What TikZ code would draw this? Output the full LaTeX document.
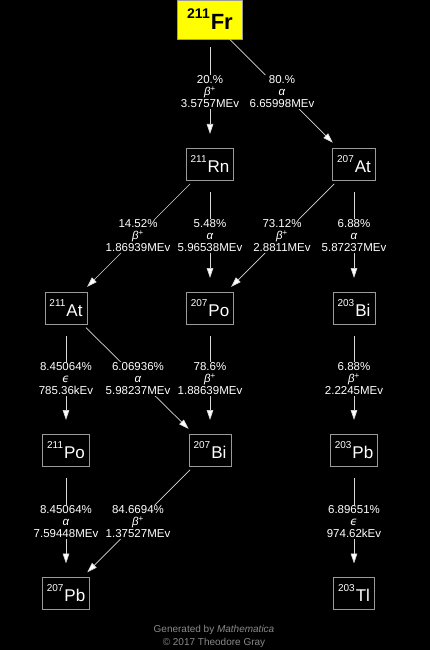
\documentclass[tikz,border=0pt]{standalone}
\usepackage{fontspec}
\setmainfont{Liberation Sans}
\newfontfamily\dvfont{DejaVu Sans}
\usetikzlibrary{arrows.meta}
\definecolor{boxgray}{HTML}{9A9A9A}
\definecolor{linegray}{HTML}{D8D8D8}
\definecolor{fryellow}{HTML}{FFFF00}
\definecolor{footgray}{HTML}{8A8A8A}
\newcommand\nucl[2]{\raisebox{10pt}{\fontsize{10}{10}\selectfont #1}\kern1pt{\fontsize{17}{17}\selectfont #2}}
\newcommand\bplus{\textit{β}\textsuperscript{+}}
\newcommand\alp{\textit{α}}
\newcommand\eps{{\dvfont\itshape ϵ}}
\begin{document}
\begin{tikzpicture}[x=1pt,y=-1pt,
  nuc/.style={draw=boxgray, fill=black, text=white, line width=0.8pt,
    minimum height=32pt, inner xsep=4.5pt, inner ysep=2pt},
  edge/.style={draw=linegray, line width=0.7pt,
    -{Triangle[length=10pt,width=6.5pt,fill=white]},
    shorten <=28pt, shorten >=30pt},
  lbl/.style={fill=black, text=white, inner sep=1pt, align=center,
    font=\fontsize{11.5}{12}\selectfont}]
\fill[black] (0,0) rectangle (430,650);
\useasboundingbox (0,0) rectangle (430,650);

\node[draw=boxgray, fill=fryellow, text=black, line width=0.8pt,
  minimum width=65pt, minimum height=39pt, inner sep=2pt] (Fr) at (210,19.5)
  {\bfseries\raisebox{11pt}{\fontsize{14}{14}\selectfont 211}\kern1pt{\fontsize{22}{22}\selectfont Fr}};
\node[nuc] (Rn) at (210,164) {\nucl{211}{Rn}};
\node[nuc] (AtB) at (354,164) {\nucl{207}{At}};
\node[nuc] (AtA) at (66,308) {\nucl{211}{At}};
\node[nuc] (PoB) at (210,308) {\nucl{207}{Po}};
\node[nuc] (BiC) at (354,308) {\nucl{203}{Bi}};
\node[nuc] (PoA) at (66,450) {\nucl{211}{Po}};
\node[nuc] (BiB) at (210,450) {\nucl{207}{Bi}};
\node[nuc] (PbC) at (354,450) {\nucl{203}{Pb}};
\node[nuc] (PbB) at (66,593.5) {\nucl{207}{Pb}};
\node[nuc] (Tl) at (354,593.5) {\nucl{203}{Tl}};

\draw[edge] (Fr.center) -- (Rn.center) node[lbl,midway] {20.\%\\\bplus\\3.5757MEv};
\draw[edge] (Fr.center) -- (AtB.center) node[lbl,midway] {80.\%\\\alp\\6.65998MEv};
\draw[edge] (Rn.center) -- (AtA.center) node[lbl,midway] {14.52\%\\\bplus\\1.86939MEv};
\draw[edge] (Rn.center) -- (PoB.center) node[lbl,midway] {5.48\%\\\alp\\5.96538MEv};
\draw[edge] (AtB.center) -- (PoB.center) node[lbl,midway] {73.12\%\\\bplus\\2.8811MEv};
\draw[edge] (AtB.center) -- (BiC.center) node[lbl,midway] {6.88\%\\\alp\\5.87237MEv};
\draw[edge] (AtA.center) -- (PoA.center) node[lbl,midway] {8.45064\%\\\eps\\785.36kEv};
\draw[edge] (AtA.center) -- (BiB.center) node[lbl,midway] {6.06936\%\\\alp\\5.98237MEv};
\draw[edge] (PoB.center) -- (BiB.center) node[lbl,midway] {78.6\%\\\bplus\\1.88639MEv};
\draw[edge] (BiC.center) -- (PbC.center) node[lbl,midway] {6.88\%\\\bplus\\2.2245MEv};
\draw[edge] (PoA.center) -- (PbB.center) node[lbl,midway] {8.45064\%\\\alp\\7.59448MEv};
\draw[edge] (BiB.center) -- (PbB.center) node[lbl,midway] {84.6694\%\\\bplus\\1.37527MEv};
\draw[edge] (PbC.center) -- (Tl.center) node[lbl,midway] {6.89651\%\\\eps\\974.62kEv};

\node[text=footgray, font=\fontsize{10}{10}\selectfont] (gen) at (214,630) {Generated by \textit{Mathematica}};
\node[text=footgray, font=\fontsize{10}{10}\selectfont] (copy) at (214,643) {© 2017 Theodore Gray};
\end{tikzpicture}
\end{document}
